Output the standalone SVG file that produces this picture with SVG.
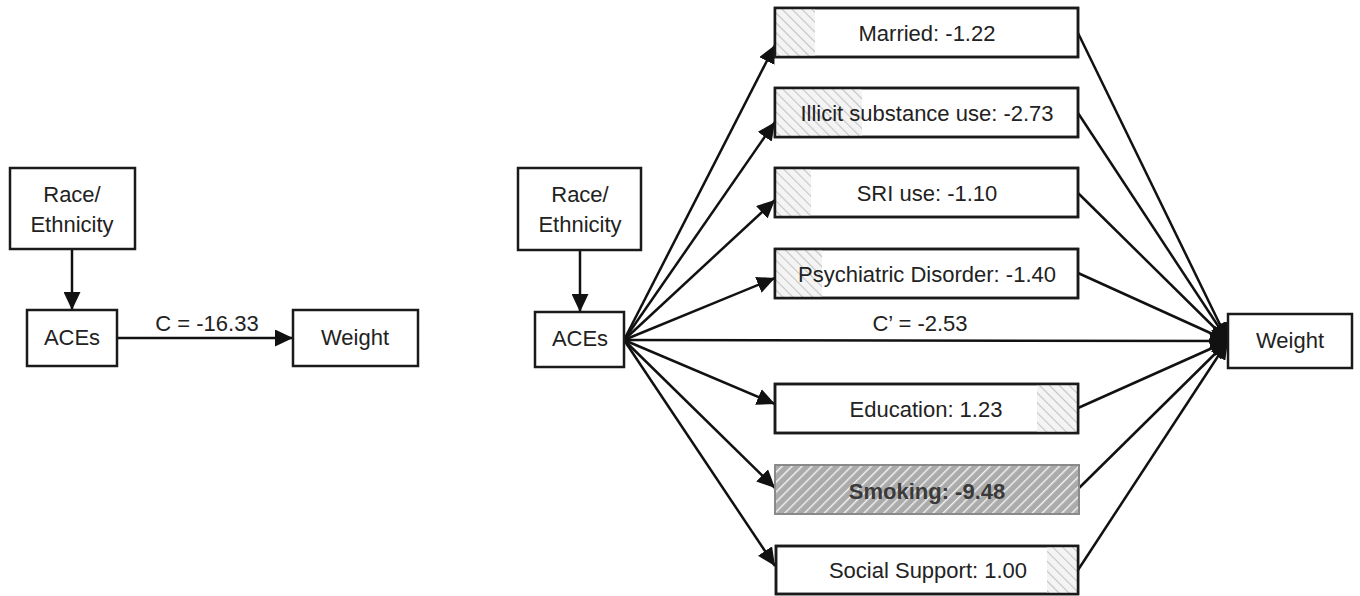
<svg xmlns="http://www.w3.org/2000/svg" width="1360" height="596" viewBox="0 0 1360 596">
<style>
  .box{fill:#fff;stroke:#1a1a1a;stroke-width:2.5}
  .frame{fill:none;stroke:#1a1a1a;stroke-width:2.5}
  .t{font-family:"Liberation Sans",Arial,sans-serif;font-size:22px;fill:#222;text-anchor:middle}
  .c{stroke:#111;stroke-width:2.5;fill:none}
</style>
<defs>
  <marker id="ah" markerUnits="userSpaceOnUse" markerWidth="19" markerHeight="17" refX="18" refY="8.5" orient="auto">
    <path d="M0,0 L18,8.5 L0,17 Z" fill="#111"/>
  </marker>
  <pattern id="hl" patternUnits="userSpaceOnUse" width="7" height="7" patternTransform="rotate(-45)">
    <rect width="7" height="7" fill="#f4f4f4"/>
    <line x1="0" y1="0" x2="0" y2="7" stroke="#c4c4c4" stroke-width="2.2"/>
  </pattern>
  <pattern id="hs" patternUnits="userSpaceOnUse" width="7" height="7" patternTransform="rotate(45)">
    <rect width="7" height="7" fill="#ababab"/>
    <line x1="0" y1="0" x2="0" y2="7" stroke="#f2f2f2" stroke-width="2.8"/>
  </pattern>
</defs>

<g id="connectors">
  <line class="c" x1="72" y1="249" x2="72" y2="310" marker-end="url(#ah)"/>
  <line class="c" x1="117" y1="338" x2="293" y2="338" marker-end="url(#ah)"/>
  <line class="c" x1="580" y1="250" x2="580" y2="312" marker-end="url(#ah)"/>
  <line class="c" x1="624" y1="340" x2="775" y2="45" marker-end="url(#ah)"/>
  <line class="c" x1="624" y1="340" x2="775" y2="122" marker-end="url(#ah)"/>
  <line class="c" x1="624" y1="340" x2="775" y2="200" marker-end="url(#ah)"/>
  <line class="c" x1="624" y1="340" x2="775" y2="278" marker-end="url(#ah)"/>
  <line class="c" x1="624" y1="340" x2="775" y2="404" marker-end="url(#ah)"/>
  <line class="c" x1="624" y1="340" x2="775" y2="488" marker-end="url(#ah)"/>
  <line class="c" x1="624" y1="340" x2="775" y2="566" marker-end="url(#ah)"/>
  <line class="c" x1="624" y1="340" x2="1228" y2="341" marker-end="url(#ah)"/>
  <line class="c" x1="1078" y1="33" x2="1228" y2="341" marker-end="url(#ah)"/>
  <line class="c" x1="1078" y1="113" x2="1228" y2="341" marker-end="url(#ah)"/>
  <line class="c" x1="1078" y1="193" x2="1228" y2="341" marker-end="url(#ah)"/>
  <line class="c" x1="1078" y1="273" x2="1228" y2="341" marker-end="url(#ah)"/>
  <line class="c" x1="1078" y1="408" x2="1228" y2="341" marker-end="url(#ah)"/>
  <line class="c" x1="1078" y1="489" x2="1228" y2="341" marker-end="url(#ah)"/>
  <line class="c" x1="1078" y1="570" x2="1228" y2="341" marker-end="url(#ah)"/>
  <text class="t" x="207" y="331">C = -16.33</text>
  <text class="t" x="920" y="331">C’ = -2.53</text>
</g>

<g id="race-left">
  <rect class="box" x="10" y="168" width="125" height="81"/>
  <text class="t" x="72" y="202">Race/</text>
  <text class="t" x="72" y="232">Ethnicity</text>
</g>
<g id="aces-left">
  <rect class="box" x="27" y="310" width="90" height="56"/>
  <text class="t" x="72" y="345">ACEs</text>
</g>
<g id="weight-left">
  <rect class="box" x="293" y="310" width="125" height="56"/>
  <text class="t" x="355" y="345">Weight</text>
</g>

<g id="race-right">
  <rect class="box" x="518" y="168" width="123" height="82"/>
  <text class="t" x="580" y="202">Race/</text>
  <text class="t" x="580" y="232">Ethnicity</text>
</g>
<g id="aces-right">
  <rect class="box" x="535" y="312" width="89" height="55"/>
  <text class="t" x="580" y="346">ACEs</text>
</g>
<g id="weight-right">
  <rect class="box" x="1228" y="314" width="124" height="54"/>
  <text class="t" x="1290" y="348">Weight</text>
</g>

<g id="married">
  <rect class="box" x="775" y="8" width="303" height="49"/>
  <rect x="776" y="9" width="39" height="47" fill="url(#hl)"/>
  <rect class="frame" x="775" y="8" width="303" height="49"/>
  <text class="t" x="927" y="41">Married: -1.22</text>
</g>
<g id="illicit">
  <rect class="box" x="775" y="88" width="303" height="49"/>
  <rect x="776" y="89" width="86" height="47" fill="url(#hl)"/>
  <rect class="frame" x="775" y="88" width="303" height="49"/>
  <text class="t" x="927" y="121">Illicit substance use: -2.73</text>
</g>
<g id="sri">
  <rect class="box" x="775" y="168" width="303" height="49"/>
  <rect x="776" y="169" width="35" height="47" fill="url(#hl)"/>
  <rect class="frame" x="775" y="168" width="303" height="49"/>
  <text class="t" x="927" y="201">SRI use: -1.10</text>
</g>
<g id="psych">
  <rect class="box" x="775" y="249" width="303" height="49"/>
  <rect x="776" y="250" width="46" height="47" fill="url(#hl)"/>
  <rect class="frame" x="775" y="249" width="303" height="49"/>
  <text class="t" x="927" y="282">Psychiatric Disorder: -1.40</text>
</g>
<g id="education">
  <rect class="box" x="775" y="384" width="303" height="49"/>
  <rect x="1037" y="385" width="40" height="47" fill="url(#hl)"/>
  <rect class="frame" x="775" y="384" width="303" height="49"/>
  <text class="t" x="926" y="417">Education: 1.23</text>
</g>
<g id="smoking">
  <rect x="775" y="465" width="304" height="49" fill="url(#hs)" stroke="#8a8a8a" stroke-width="2"/>
  <text class="t" x="927" y="499" style="font-weight:bold;fill:#3a3a3a">Smoking: -9.48</text>
</g>
<g id="social">
  <rect class="box" x="776" y="546" width="302" height="48"/>
  <rect x="1047" y="547" width="30" height="46" fill="url(#hl)"/>
  <rect class="frame" x="776" y="546" width="302" height="48"/>
  <text class="t" x="928" y="578">Social Support: 1.00</text>
</g>
</svg>
